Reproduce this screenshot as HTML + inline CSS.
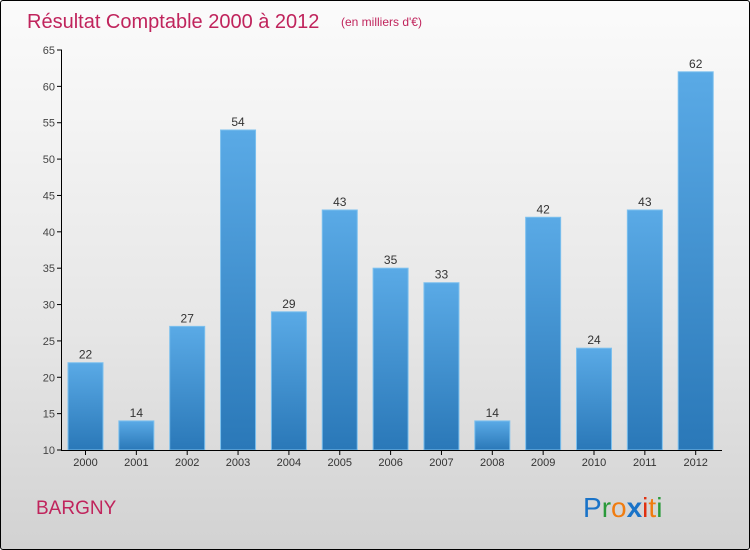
<!DOCTYPE html>
<html><head><meta charset="utf-8"><style>
body{margin:0;width:750px;height:550px;overflow:hidden;font-family:"Liberation Sans",sans-serif}
#wrap{position:absolute;left:0;top:0;width:748px;height:548px;border:1px solid #000;border-radius:3px;background:linear-gradient(#fbfbfb,#e6e6e6 60%,#d2d2d2)}
</style></head><body>
<div id="wrap">
<svg id="svg" width="750" height="550" style="position:absolute;left:-1px;top:-1px">
<defs><linearGradient id="bg" x1="0" y1="0" x2="0" y2="1"><stop offset="0" stop-color="#5aaae6"/><stop offset="1" stop-color="#2a78b8"/></linearGradient></defs>
<text x="27" y="28" font-size="20" fill="#c0245c">Résultat Comptable 2000 à 2012</text>
<text x="341" y="26" font-size="12" fill="#c0245c">(en milliers d'€)</text>
<text x="36" y="514" font-size="19" fill="#c0245c">BARGNY</text>
<g font-size="28">
<text x="583" y="517"><tspan fill="#1a73c8">P</tspan><tspan fill="#2a9a3a">r</tspan><tspan fill="#f07c10">o</tspan><tspan fill="#1a73c8" font-weight="bold">x</tspan><tspan fill="#e03010">i</tspan><tspan fill="#f07c10">t</tspan><tspan fill="#2a9a3a">i</tspan></text></g>
<g id="plot"></g>
</svg></div>
<script>
const years=["2000","2001","2002","2003","2004","2005","2006","2007","2008","2009","2010","2011","2012"];
const values=[22,14,27,54,29,43,35,33,14,42,24,43,62];
const yTicks=[10,15,20,25,30,35,40,45,50,55,60,65];
const NS="http://www.w3.org/2000/svg";
const g=document.getElementById('plot');
const y=v=>450-(v-10)*400/55;
const xc=i=>85.5+i*50.85;
function el(t,a){const e=document.createElementNS(NS,t);for(const k in a)e.setAttribute(k,a[k]);g.appendChild(e);return e;}
yTicks.forEach(t=>{
 const l=el('line',{x1:57,x2:62,y1:y(t),y2:y(t),stroke:'#000'});
 
 
 const tx=el('text',{x:55,y:y(t)+4,'text-anchor':'end','font-size':11,fill:'#444'});tx.textContent=t;
 
 
});
values.forEach((v,i)=>{
 const r=el('rect',{x:xc(i)-17.5,y:y(v),width:35,height:450-y(v),fill:'url(#bg)',stroke:'#7cc0ee','stroke-width':1});
 
 
 const lb=el('text',{x:xc(i),y:y(v)-4,'text-anchor':'middle','font-size':12,fill:'#333'});lb.textContent=v;
 
 
 const tk=el('line',{x1:xc(i),x2:xc(i),y1:450,y2:455,stroke:'#000'});
 
 
 const xl=el('text',{x:xc(i),y:466,'text-anchor':'middle','font-size':11,fill:'#333'});xl.textContent=years[i];
 
 
});
const ya=el('line',{x1:61.5,x2:61.5,y1:y(65),y2:450,stroke:'#000'});


const xa=el('line',{x1:61,x2:722,y1:450.5,y2:450.5,stroke:'#000'});


</script>
</body></html>
